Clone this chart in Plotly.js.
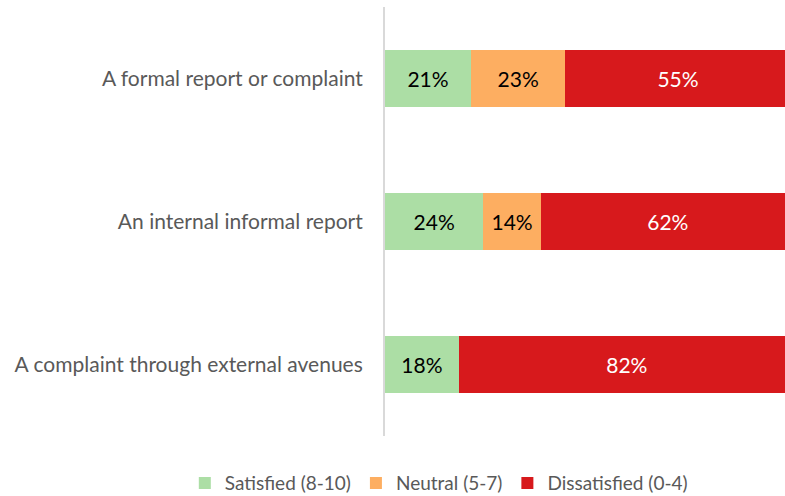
<!DOCTYPE html>
<html>
<head>
<meta charset="utf-8">
<script src="https://cdn.plot.ly/plotly-3.0.1.min.js"></script>
<style>
  html, body { margin: 0; padding: 0; background: #fff; }
  #chart { width: 785px; height: 496px; }
</style>
</head>
<body>
<div id="chart"></div>
<script>
const categories = [
  'A formal report or complaint',
  'An internal informal report',
  'A complaint through external avenues'
];
const satisfied = [21, 24, 18];
const neutral = [23, 14, 0];
const dissatisfied = [55, 62, 82];

const seriesNames = ['Satisfied (8-10)', 'Neutral (5-7)', 'Dissatisfied (0-4)'];
const seriesColors = ['#acdea5', '#fdae61', '#d7191c'];
const textColors = ['#000000', '#000000', '#ffffff'];

function labels(vals) {
  return vals.map(v => (v > 0 ? v + '%' : ''));
}

const traces = [satisfied, neutral, dissatisfied].map((vals, i) => ({
  type: 'bar',
  orientation: 'h',
  name: seriesNames[i],
  y: categories,
  x: vals,
  text: labels(vals),
  textposition: 'inside',
  insidetextanchor: 'middle',
  textangle: 0,
  constraintext: 'none',
  textfont: { family: 'Lato, sans-serif', size: 21, color: textColors[i] },
  marker: { color: seriesColors[i], line: { width: 0 } },
  hoverinfo: 'none'
}));

const layout = {
  width: 785,
  height: 496,
  margin: { l: 0, r: 0, t: 7, b: 60 },
  paper_bgcolor: '#ffffff',
  plot_bgcolor: '#ffffff',
  barmode: 'stack',
  bargap: 0.6,
  font: { family: 'Lato, sans-serif', color: '#595959' },
  xaxis: {
    domain: [385 / 785, 1],
    range: [0, 97.6],
    showgrid: false,
    zeroline: false,
    showticklabels: false,
    showline: false,
    fixedrange: true
  },
  yaxis: {
    autorange: 'reversed',
    automargin: false,
    showline: true,
    linecolor: '#d9d9d9',
    linewidth: 2,
    showgrid: false,
    ticks: '',
    ticklabelstandoff: 16,
    tickfont: { family: 'Lato, sans-serif', size: 21, color: '#595959' }
  },
  showlegend: true,
  legend: {
    orientation: 'h',
    xref: 'paper',
    yref: 'container',
    x: 0.559,
    xanchor: 'center',
    y: 0.026,
    yanchor: 'middle',
    traceorder: 'normal',
    font: { family: 'Lato, sans-serif', size: 19, color: '#595959' }
  }
};

Plotly.newPlot('chart', traces, layout, { displayModeBar: false, staticPlot: true });
</script>
</body>
</html>
